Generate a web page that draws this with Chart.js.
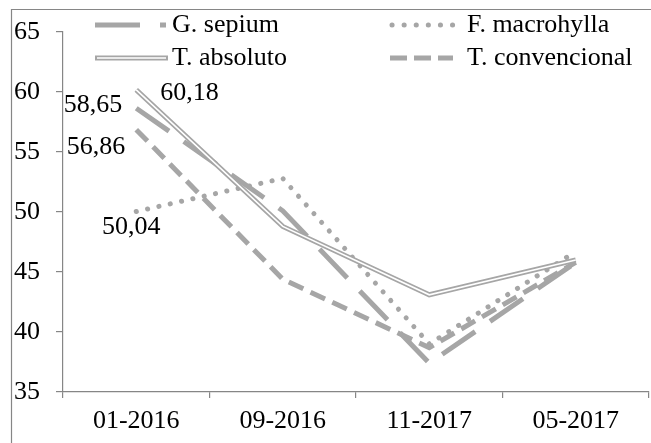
<!DOCTYPE html>
<html>
<head>
<meta charset="utf-8">
<script src="https://cdn.jsdelivr.net/npm/chart.js@4"></script>
<style>
  html, body { margin: 0; padding: 0; background: #fff; }
  #wrap { width: 651px; height: 443px; position: relative; }
</style>
</head>
<body>
<div id="wrap"><canvas id="myChart" width="651" height="443"></canvas></div>
<script>
// categories and series
var fechas = ['01-2016', '09-2016', '11-2017', '05-2017'];
var gSepium = [58.65, 50.1, 37.4, 45.8];
var fMacrohylla = [50.04, 52.8, 39.0, 46.7];
var tAbsoluto = [60.18, 48.8, 43.1, 46.0];
var tConvencional = [56.86, 44.4, 38.7, 45.8];
var yTicks = [35, 40, 45, 50, 55, 60, 65];

var gris = '#a6a6a6';
var fuente = '"Liberation Serif", "Times New Roman", serif';

// labels on the first point only
var etiquetas = [
    { ds: 0, align: 'right', dx: -14, dy: -3 },
    { ds: 1, align: 'center', dx: -5, dy: 16 },
    { ds: 2, align: 'left', dx: 24, dy: 3 },
    { ds: 4, align: 'right', dx: -11, dy: 17 }
];

var marco = {
    id: 'marco',
    beforeDraw: function(chart) {
        var c = chart.ctx;
        c.save();
        c.strokeStyle = '#868686';
        c.lineWidth = 1.2;
        c.beginPath();
        c.moveTo(11.5, 460);
        c.lineTo(11.5, 9.5);
        c.lineTo(660, 9.5);
        c.stroke();
        c.restore();
    },
    afterDraw: function(chart) {
        var c = chart.ctx;
        c.save();
        c.font = '26px ' + fuente;
        c.fillStyle = '#000';
        c.textBaseline = 'middle';
        etiquetas.forEach(function(e) {
            var ds = chart.data.datasets[e.ds];
            var pt = chart.getDatasetMeta(e.ds).data[0];
            c.textAlign = e.align;
            c.fillText(String(ds.data[0]).replace('.', ','), pt.x + e.dx, pt.y + e.dy);
        });

        // legend 2 x 2
        c.textAlign = 'left';
        c.lineCap = 'butt';
        c.strokeStyle = gris;
        // G. sepium
        c.lineWidth = 5;
        c.setLineDash([45, 20]);
        c.beginPath(); c.moveTo(95, 25); c.lineTo(166, 25); c.stroke();
        c.fillText('G. sepium', 172, 25);
        // T. absoluto
        c.setLineDash([]);
        c.lineWidth = 5;
        c.beginPath(); c.moveTo(95, 58); c.lineTo(168, 58); c.stroke();
        c.strokeStyle = '#fff';
        c.lineWidth = 1.6;
        c.beginPath(); c.moveTo(97, 58); c.lineTo(166, 58); c.stroke();
        c.fillText('T. absoluto', 172, 58);
        // F. macrohylla
        c.strokeStyle = gris;
        c.lineCap = 'round';
        c.lineWidth = 5;
        c.setLineDash([0.1, 12]);
        c.beginPath(); c.moveTo(392, 25); c.lineTo(453, 25); c.stroke();
        c.fillText('F. macrohylla', 467, 25);
        // T. convencional
        c.lineCap = 'butt';
        c.lineWidth = 5;
        c.setLineDash([17, 7]);
        c.beginPath(); c.moveTo(390, 58); c.lineTo(453, 58); c.stroke();
        c.fillText('T. convencional', 467, 58);
        c.restore();
    }
};

var ctx = document.getElementById('myChart').getContext('2d');
var myChart = new Chart(ctx, {
    type: 'line',
    data: {
        labels: fechas,
        datasets: [
            {
                label: 'G. sepium',
                data: gSepium,
                borderColor: gris,
                borderWidth: 5,
                borderDash: [40, 18],
                order: 2
            },
            {
                label: 'F. macrohylla',
                data: fMacrohylla,
                borderColor: gris,
                borderWidth: 5,
                borderDash: [0.1, 11.5],
                borderCapStyle: 'round',
                order: 3
            },
            {
                label: 'T. absoluto',
                data: tAbsoluto,
                borderColor: gris,
                borderWidth: 5,
                order: 1
            },
            {
                // white core of the double line
                label: 'T. absoluto (centro)',
                data: tAbsoluto,
                borderColor: '#ffffff',
                borderWidth: 1.6,
                order: 0
            },
            {
                label: 'T. convencional',
                data: tConvencional,
                borderColor: gris,
                borderWidth: 5,
                borderDash: [16, 8],
                order: 4
            }
        ]
    },
    options: {
        responsive: false,
        animation: false,
        layout: { padding: { top: 32, right: 2, left: 0, bottom: 0 } },
        elements: {
            line: { tension: 0, fill: false, backgroundColor: 'transparent' },
            point: { radius: 0, hoverRadius: 0 }
        },
        plugins: {
            legend: { display: false },
            tooltip: { enabled: false }
        },
        scales: {
            x: {
                offset: true,
                grid: { offset: true, drawOnChartArea: false, tickLength: 6, color: '#868686', lineWidth: 1.2 },
                border: { color: '#868686', width: 1.2 },
                ticks: { color: '#000', padding: 8, maxRotation: 0, font: { family: fuente, size: 26 } },
                afterFit: function(s) { s.height = 51; }
            },
            y: {
                min: 35,
                max: 65,
                afterBuildTicks: function(s) { s.ticks = yTicks.map(function(v) { return { value: v }; }); },
                grid: { drawOnChartArea: false, tickLength: 7, color: '#868686', lineWidth: 1.2 },
                border: { color: '#868686', width: 1.2 },
                ticks: { color: '#000', padding: 16, font: { family: fuente, size: 26 } },
                afterFit: function(s) { s.width = 63; }
            }
        }
    },
    plugins: [marco]
});
</script>
</body>
</html>
